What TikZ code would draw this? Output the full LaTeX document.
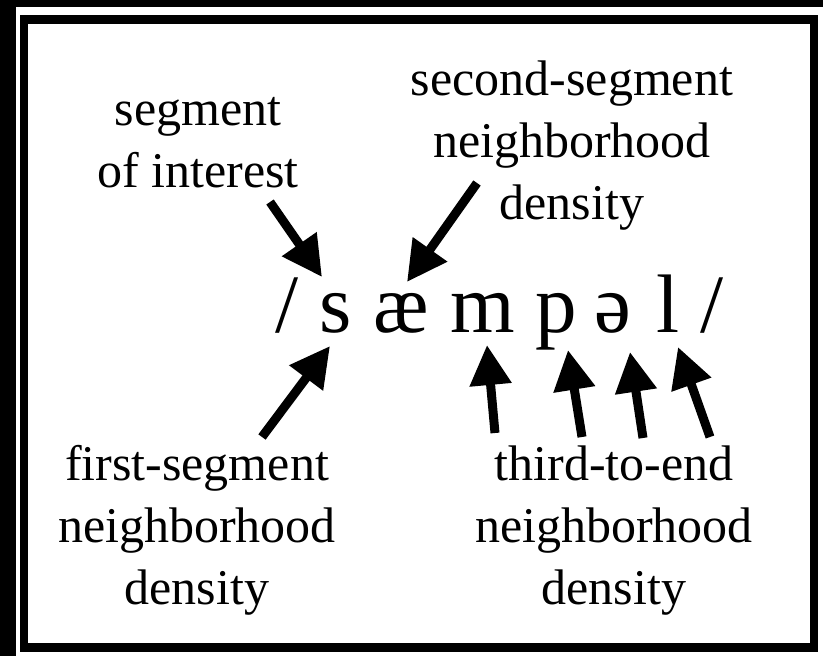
\documentclass[tikz,border=0pt]{standalone}
\usepackage{fontspec}
\setmainfont{Liberation Serif}
\usetikzlibrary{arrows.meta,calc}
\newcommand{\lbl}[1]{\begin{tabular}[t]{@{}c@{}}#1\end{tabular}}
\begin{document}
\begin{tikzpicture}[x=1pt,y=-1pt,
  label/.style={inner sep=0pt,anchor=base,font=\fontsize{50}{62}\selectfont},
  phon/.style={inner sep=0pt,anchor=base,font=\fontsize{83}{90}\selectfont},
  pointer/.style={line width=9pt,-{Triangle[length=40pt,width=40pt]}}]
\useasboundingbox (0,0) rectangle (823,656);
% page ground and frame
\fill[black] (0,0) rectangle (823,656);
\fill[white] (16,7) rectangle (823,656);
\draw[line width=8.5pt] (24,19.5) rectangle (814,647.5);

% the transcription, one node per symbol
\node[phon] (sl1) at (287,332) {/};
\node[phon] (s)   at (336,332) {s};
\node[phon] (ae)  at (401,332) {æ};
\node[phon] (m)   at (483,332) {m};
\node[phon] (p)   at (556,332) {p};
\node[phon] (schwa) at (613,332) {ə};
\node[phon] (l)   at (668,332) {l};
\node[phon] (sl2) at (712,332) {/};

% labels
\node[label] (interest) at (198,125) {\lbl{segment\\of interest}};
\node[label] (second)   at (572,95)  {\lbl{second-segment\\neighborhood\\density}};
\node[label] (first)    at (197,480) {\lbl{first-segment\\neighborhood\\density}};
\node[label] (third)    at (614,480) {\lbl{third-to-end\\neighborhood\\density}};

% arrow tails
\coordinate (tInterest) at (270,202);
\coordinate (tSecond)   at (477,183);
\coordinate (tFirst)    at (262,437);
\coordinate (tM)        at (495,433);
\coordinate (tP)        at (582,437);
\coordinate (tSchwa)    at (643,438);
\coordinate (tL)        at (710,437);

\draw[pointer] (tInterest) -- ($(s.base)+(-14,-55)$);
\draw[pointer] (tSecond)   -- ($(ae.base)+(6,-50)$);
\draw[pointer] (tFirst)    -- ($(s.base)+(-6,14)$);
\draw[pointer] (tM)        -- ($(m.base)+(4,13)$);
\draw[pointer] (tP)        -- ($(p.base)+(12,18)$);
\draw[pointer] (tSchwa)    -- ($(schwa.base)+(17,20)$);
\draw[pointer] (tL)        -- ($(l.base)+(10,15)$);
\end{tikzpicture}
\end{document}
